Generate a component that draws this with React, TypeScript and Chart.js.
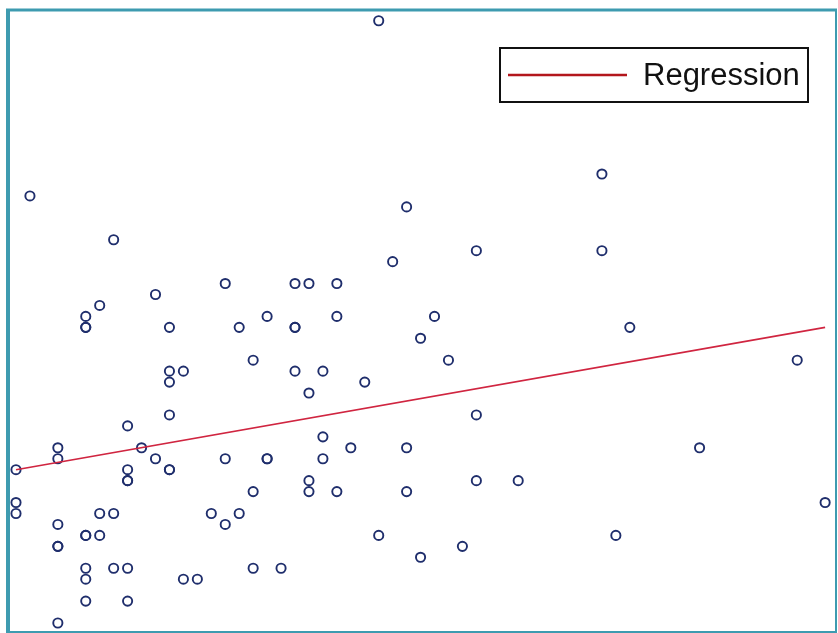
import React, { useEffect, useRef } from "react";
import { Chart, registerables } from "chart.js";

Chart.register(...registerables);

const obsX: number[] = [
  26, 1, 28, 7, 42, 33, 42, 27, 15, 20, 21, 23, 10, 6, 5, 18, 23, 30, 5, 5,
  11, 16, 20, 20, 29, 44, 31, 56, 17, 11, 12, 11, 20, 22, 21, 25, 11, 33, 8, 3,
  3, 9, 10, 15, 18, 18, 22, 22, 24, 28, 49, 0, 8, 8, 8, 11, 11, 21, 21, 17,
  23, 28, 33, 36, 58, 0, 0, 6, 7, 14, 15, 16, 3, 3, 3, 5, 5, 6, 26, 43,
  32, 29, 5, 5, 7, 8, 12, 13, 17, 19, 5, 8, 3,
];
const obsY: number[] = [
  55, 39, 38, 35, 41, 34, 34, 33, 31, 31, 31, 31, 30, 29, 28, 28, 28, 28, 27, 27,
  27, 27, 27, 27, 26, 27, 24, 24, 24, 23, 23, 22, 23, 23, 21, 22, 19, 19, 18, 16,
  15, 16, 15, 15, 15, 15, 17, 15, 16, 16, 16, 14, 14, 13, 13, 14, 14, 13, 12, 12,
  12, 12, 13, 13, 11, 11, 10, 10, 10, 10, 9, 10, 9, 7, 7, 8, 8, 8, 8, 8,
  7, 6, 5, 4, 5, 5, 4, 4, 5, 5, 2, 2, 0,
];

// Regression line end points
const regX: number[] = [0, 58];
const regY: number[] = [14, 27];
const regLabel = "Regression";

const framePlugin = {
  id: "frame",
  afterDraw(chart: any) {
    const { ctx, chartArea } = chart;
    const L = chartArea.left, T = chartArea.top, R = chartArea.right, B = chartArea.bottom;
    ctx.save();
    ctx.fillStyle = "#3e9bb0";
    ctx.fillRect(L - 2, T - 1, 4, B - T + 2);
    ctx.fillRect(L - 2, T - 1.5, R - L + 3, 3);
    ctx.fillRect(R - 1, T - 1, 2, B - T + 2);
    ctx.fillRect(L - 2, B - 1, R - L + 3, 2);
    ctx.restore();
  },
};

const boxLegendPlugin = {
  id: "boxLegend",
  afterDraw(chart: any) {
    const { ctx, chartArea } = chart;
    const ds = chart.data.datasets[0];
    const right = chartArea.right - 28;
    const left = right - 308;
    const top = chartArea.top + 38;
    const h = 54;
    ctx.save();
    ctx.fillStyle = "#ffffff";
    ctx.fillRect(left, top, right - left, h);
    ctx.strokeStyle = "#111111";
    ctx.lineWidth = 2;
    ctx.strokeRect(left, top, right - left, h);
    const cy = top + h / 2;
    ctx.strokeStyle = "#b3161c";
    ctx.lineWidth = 2.5;
    ctx.beginPath();
    ctx.moveTo(left + 8, cy);
    ctx.lineTo(left + 127, cy);
    ctx.stroke();
    ctx.fillStyle = "#111111";
    ctx.font = "31px 'Liberation Sans', Arial, sans-serif";
    ctx.textBaseline = "middle";
    ctx.textAlign = "left";
    ctx.fillText(ds.label, left + 143, cy + 1);
    ctx.restore();
  },
};

export default function App() {
  const ref = useRef<HTMLCanvasElement | null>(null);
  useEffect(() => {
    if (!ref.current) return;
    const points = obsX.map((x, i) => ({ x, y: obsY[i] }));
    const reg = regX.map((x, i) => ({ x, y: regY[i] }));
    const chart = new Chart(ref.current, {
      type: "scatter",
      data: {
        datasets: [
          {
            type: "line",
            label: regLabel,
            data: reg,
            borderColor: "#d02540",
            borderWidth: 1.6,
            pointRadius: 0,
            fill: false,
            order: 0,
          } as any,
          {
            label: "Observed",
            data: points,
            pointRadius: 4.6,
            pointBorderWidth: 1.9,
            borderColor: "#1f2e6c",
            backgroundColor: "rgba(0,0,0,0)",
            pointBackgroundColor: "rgba(0,0,0,0)",
            pointBorderColor: "#1f2e6c",
            order: 1,
            clip: false,
          } as any,
        ],
      },
      options: {
        animation: false,
        responsive: false,
        layout: { autoPadding: false, padding: { left: 8, top: 10, right: 2, bottom: 1 } },
        scales: {
          x: { type: "linear", display: false, min: -0.573, max: 58.78 },
          y: { type: "linear", display: false, min: -0.822, max: 55.98 },
        },
        plugins: {
          legend: { display: false },
          tooltip: { enabled: false },
        },
      },
      plugins: [framePlugin, boxLegendPlugin],
    });
    return () => chart.destroy();
  }, []);
  return (
    <div style={{ position: "absolute", left: 0, top: 0, width: 838, height: 633, background: "#ffffff" }}>
      <canvas ref={ref} width={838} height={633} style={{ display: "block" }} />
    </div>
  );
}
